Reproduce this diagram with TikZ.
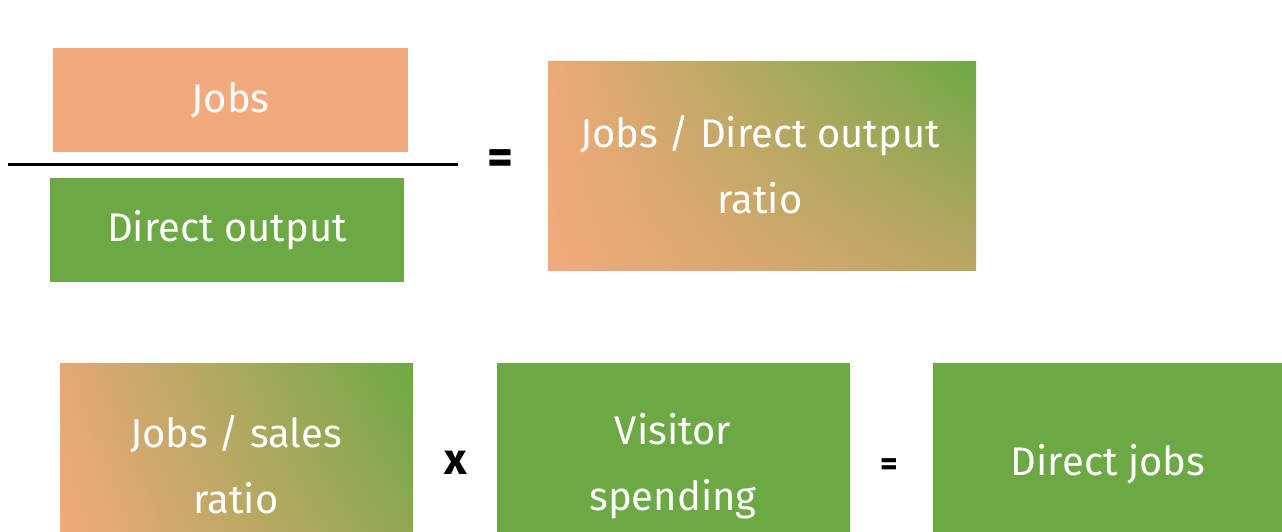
\documentclass[tikz,border=0pt]{standalone}
\usepackage{fontspec}
\setmainfont{Fira Sans}
\usetikzlibrary{shadings}
\definecolor{boxorange}{HTML}{F2A97B}
\definecolor{boxgreen}{HTML}{6CA944}
\definecolor{midtan}{HTML}{EEA977}
\definecolor{olive}{HTML}{BCA563}
\tikzset{
  lbl/.style={text=white, align=center, font=\fontsize{40}{66}\selectfont},
  opr/.style={text=black, font=\bfseries\fontsize{34}{40}\selectfont},
  boxlabel/.style={lbl, inner sep=0pt}
}
\begin{document}
\begin{tikzpicture}[x=1pt,y=-1pt]
\useasboundingbox[fill=white] (0,0) rectangle (1282,532);
% top fraction
\fill[boxorange] (53,48) rectangle (408,152);
\node[boxlabel] (jobs) at (230.5,100) {Jobs};
\draw[line width=3pt] (8,164) -- (458,164);
\fill[boxgreen] (50,178) rectangle (404,282);
\node[boxlabel] (dout) at (227,230) {Direct output};
\node[opr, font=\bfseries\fontsize{50}{56}\selectfont] (eq1) at (500,162) {=};
% ratio box
\shade[lower left=boxorange, upper left=midtan, lower right=olive, upper right=boxgreen] (548,62) rectangle (976,270);
\node[boxlabel] (ratio) at (760,165) {Jobs / Direct output\\ratio};
% bottom row
\shade[lower left=boxorange, upper left=midtan!80!olive, lower right=boxgreen!55!olive, upper right=boxgreen] (60,363) rectangle (413,540);
\node[boxlabel] (jsr) at (236,465) {Jobs / sales\\ratio};
\node[opr, font=\bfseries\fontsize{44}{50}\selectfont] (times) at (456,463) {x};
\fill[boxgreen] (497,363) rectangle (850,540);
\node[boxlabel] (vs) at (673,466) {Visitor\\spending};
\node[opr, font=\bfseries\fontsize{34}{40}\selectfont] (eq2) at (889,467) {=};
\fill[boxgreen] (933,363) rectangle (1290,540);
\node[boxlabel] (dj) at (1108,464) {Direct jobs};
\end{tikzpicture}
\end{document}
